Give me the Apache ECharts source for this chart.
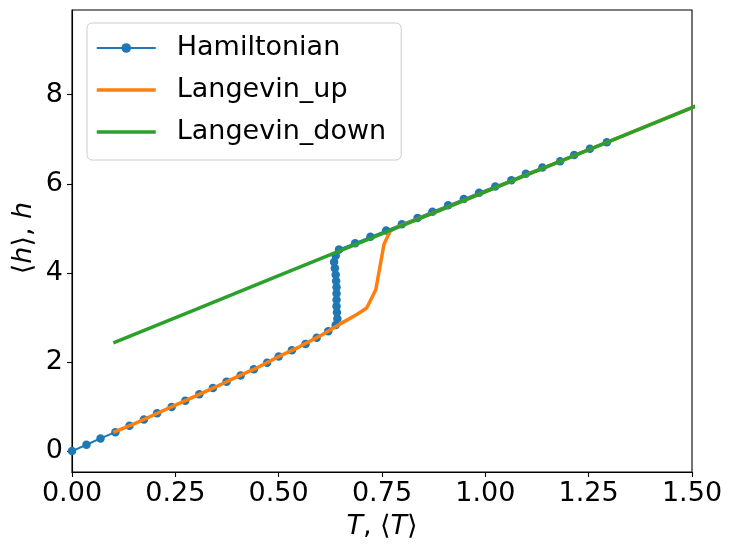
<!DOCTYPE html>
<html>
<head>
<meta charset="utf-8">
<script src="https://cdn.jsdelivr.net/npm/echarts@6/dist/echarts.min.js"></script>
<style>html,body{margin:0;padding:0;background:#fff}#c{width:733px;height:553px}</style>
</head>
<body>
<div id="c"></div>
<script>
// Hamiltonian: h fixed, <T> measured
const hamT = [0, 0.035, 0.069, 0.105, 0.139, 0.174, 0.206, 0.241, 0.274, 0.308, 0.341, 0.374, 0.408, 0.440, 0.472, 0.500, 0.532, 0.565, 0.592, 0.620,
  0.638, 0.642, 0.641, 0.640, 0.640, 0.640, 0.640, 0.639, 0.638, 0.636, 0.634, 0.638, 0.646,
  0.685, 0.722, 0.760, 0.798, 0.836, 0.872, 0.910, 0.948, 0.985, 1.024, 1.063, 1.098, 1.138, 1.181, 1.215, 1.253, 1.294];
const hamH = [0, 0.141, 0.283, 0.424, 0.566, 0.707, 0.848, 0.990, 1.131, 1.273, 1.414, 1.555, 1.697, 1.838, 1.980, 2.121, 2.262, 2.404, 2.545, 2.687,
  2.828, 2.969, 3.111, 3.252, 3.394, 3.535, 3.676, 3.818, 3.959, 4.101, 4.242, 4.383, 4.525,
  4.666, 4.808, 4.949, 5.090, 5.232, 5.373, 5.515, 5.656, 5.797, 5.939, 6.080, 6.222, 6.363, 6.504, 6.646, 6.787, 6.929];
// Langevin up
const upT = [0.1, 0.15, 0.2, 0.25, 0.3, 0.35, 0.4, 0.45, 0.5, 0.55, 0.6, 0.65, 0.69, 0.713, 0.735, 0.755, 0.77, 0.79, 0.9, 1.1, 1.3, 1.5, 1.7, 1.95];
const upH = [0.42, 0.61, 0.82, 1.03, 1.24, 1.45, 1.67, 1.88, 2.12, 2.34, 2.585, 2.86, 3.07, 3.21, 3.62, 4.65, 4.94, 5.04, 5.44, 6.20, 6.95, 7.71, 8.46, 9.40];
// Langevin down
const downT = [0.1, 0.3, 0.5, 0.7, 0.9, 1.1, 1.3, 1.5, 1.7, 1.95];
const downH = [2.43, 3.18, 3.94, 4.69, 5.44, 6.20, 6.95, 7.71, 8.46, 9.40];
const xTicks = [0, 0.25, 0.5, 0.75, 1.0, 1.25, 1.5];
const yTicks = [0, 2, 4, 6, 8];

const zip = (a, b) => a.map((v, i) => [v, b[i]]);
const F = 'DejaVu Sans';
const FS = 27;
const chart = echarts.init(document.getElementById('c'), null, {renderer: 'canvas'});
const richT = {i: {fontFamily: F, fontSize: FS, fontStyle: 'italic', fill: '#000'}, n: {fontFamily: F, fontSize: FS, fill: '#000'}};
chart.setOption({
  animation: false,
  backgroundColor: '#fff',
  textStyle: {fontFamily: F},
  grid: {left: 72, right: 41, top: 10, bottom: 81, show: true, borderColor: '#000', borderWidth: 1.1, backgroundColor: 'transparent'},
  legend: {
    orient: 'vertical', left: 87, top: 23,
    padding: [11, 15, 14, 8],
    itemGap: 14, itemWidth: 59, itemHeight: 12,
    backgroundColor: 'rgba(255,255,255,0.8)', borderColor: '#cccccc', borderWidth: 1, borderRadius: 5,
    textStyle: {fontFamily: F, fontSize: FS, lineHeight: 28, color: '#000', padding: [0, 0, 0, 16]},
    data: [
      {name: 'Hamiltonian', lineStyle: {width: 2}},
      {name: 'Langevin_up', itemStyle: {opacity: 0}, lineStyle: {width: 3.5}},
      {name: 'Langevin_down', itemStyle: {opacity: 0}, lineStyle: {width: 3.5}}
    ]
  },
  xAxis: {
    type: 'value', min: 0, max: 1.5,
    axisLine: {show: true, onZero: false, lineStyle: {color: '#000', width: 1.1}},
    axisTick: {show: true, length: 5, customValues: xTicks, lineStyle: {color: '#000', width: 1.1}},
    axisLabel: {customValues: xTicks, fontSize: FS, color: '#000', fontFamily: F, margin: 8, formatter: v => v.toFixed(2)},
    splitLine: {show: false}
  },
  yAxis: {
    type: 'value', min: -0.47, max: 9.9,
    axisLine: {show: true, onZero: false, lineStyle: {color: '#000', width: 1.1}},
    axisTick: {show: true, length: 5, customValues: yTicks, lineStyle: {color: '#000', width: 1.1}},
    axisLabel: {customValues: yTicks, fontSize: FS, color: '#000', fontFamily: F, margin: 9, formatter: v => String(v)},
    splitLine: {show: false}
  },
  graphic: [
    {type: 'text', x: 382, y: 527, style: {
      text: '{i|T}{n|, ⟨}{i|T}{n|⟩}', align: 'center', verticalAlign: 'middle', rich: richT
    }},
    {type: 'text', x: 24, y: 238, rotation: Math.PI / 2, style: {
      text: '{n|⟨}{i|h}{n|⟩, }{i|h}', align: 'center', verticalAlign: 'middle', rich: richT
    }}
  ],
  series: [
    {name: 'Hamiltonian', type: 'line', data: zip(hamT, hamH), symbol: 'circle', symbolSize: 8.5, showSymbol: true,
      itemStyle: {color: '#1f77b4', borderWidth: 0}, lineStyle: {color: '#1f77b4', width: 2}, z: 2},
    {name: 'Langevin_up', type: 'line', data: zip(upT, upH), symbol: 'none', showSymbol: false,
      itemStyle: {color: '#ff7f0e'}, lineStyle: {color: '#ff7f0e', width: 3.5}, z: 3},
    {name: 'Langevin_down', type: 'line', data: zip(downT, downH), symbol: 'none', showSymbol: false,
      itemStyle: {color: '#2ca02c'}, lineStyle: {color: '#2ca02c', width: 3.5}, z: 4}
  ]
});
</script>
</body>
</html>
